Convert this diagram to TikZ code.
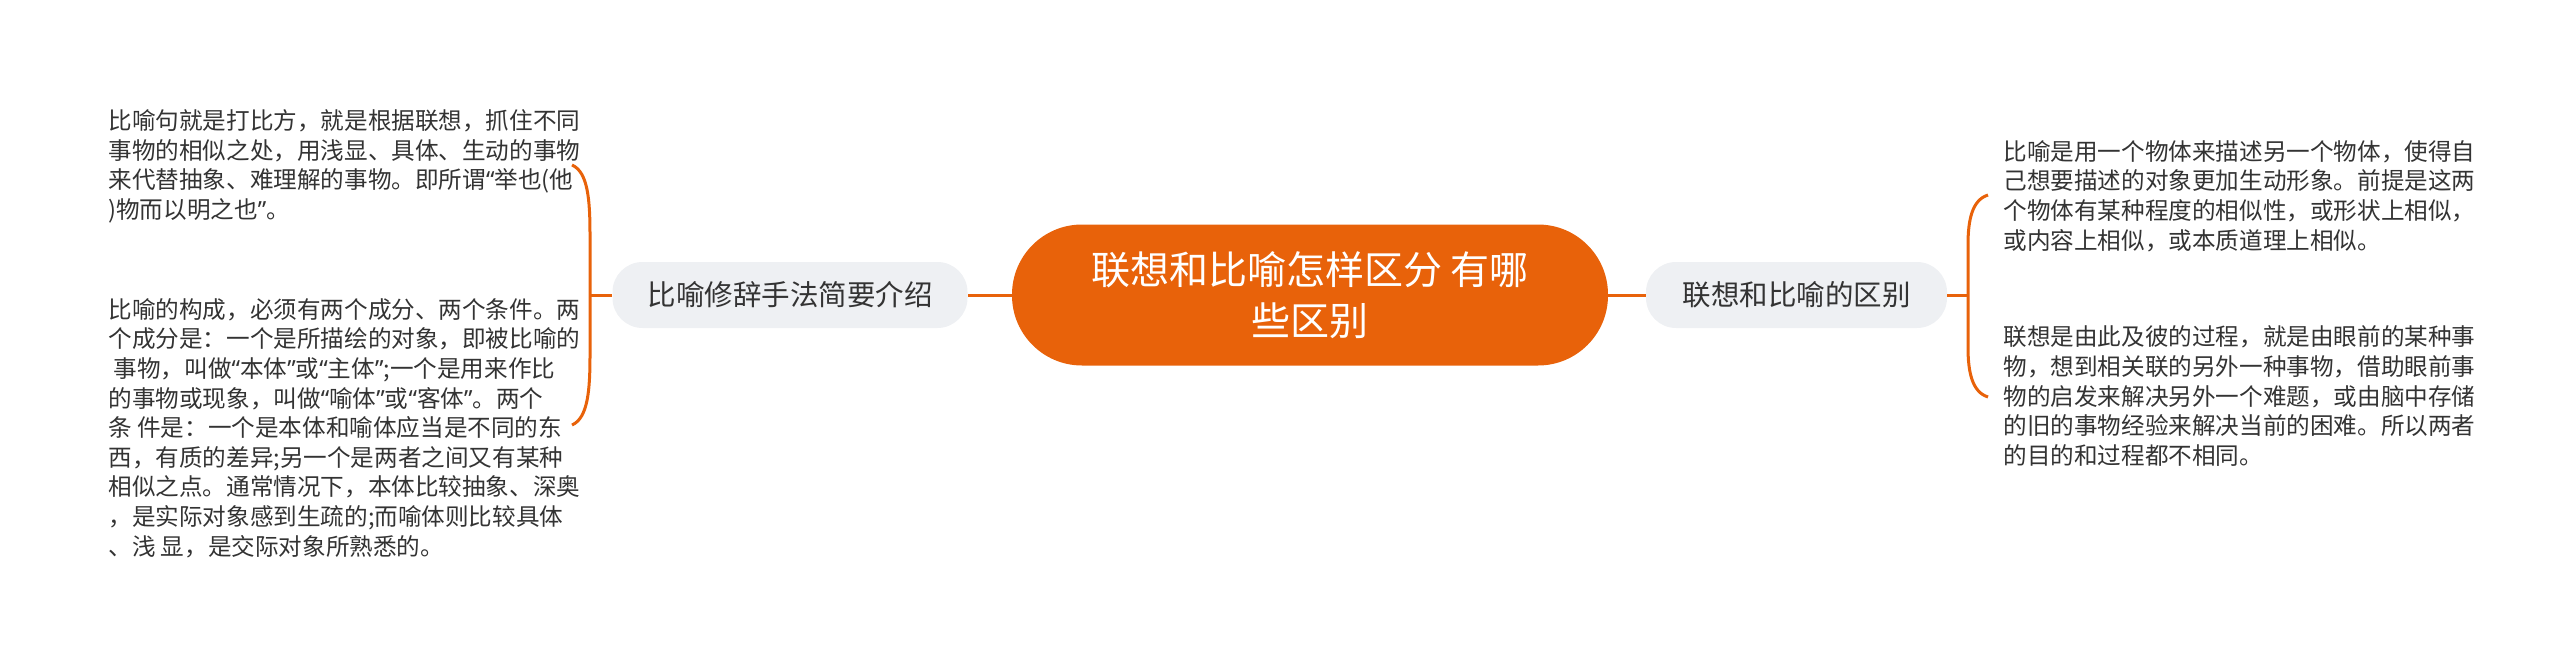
\documentclass[tikz,border=0pt]{standalone}
\usepackage{fontspec}
\setmainfont{Noto Sans CJK SC}
\newfontfamily\qfont{Noto Sans}
\newcommand{\myoq}{{\qfont “}}
\newcommand{\mycq}{{\qfont ”}}
\definecolor{orng}{HTML}{E8620A}
\definecolor{gfill}{HTML}{EEF0F3}
\definecolor{txt}{HTML}{333333}
\begin{document}
\begin{tikzpicture}[x=0.5pt,y=-0.5pt,
  conn/.style={draw=orng,line width=1.5pt},
  root/.style={fill=orng,text=white,rounded corners=35pt,minimum width=298pt,minimum height=70.5pt,align=center,font=\fontsize{19.5}{25.5}\selectfont,inner sep=0pt},
  topic/.style={fill=gfill,text=txt,rounded corners=15pt,minimum height=33pt,font=\fontsize{14.25}{17}\selectfont,inner sep=0pt},
  leaf/.style={text=txt,align=left,font=\fontsize{11.8}{14.8}\selectfont,inner sep=0pt,anchor=west}]
\useasboundingbox (0,0) rectangle (2560,664);
\node[root] (C) at (1310,295) {联想和比喻怎样区分 有哪\\些区别};
\node[topic,minimum width=177.5pt] (L) at (790,295) {比喻修辞手法简要介绍};
\node[topic,minimum width=150.5pt] (R) at (1796.5,295) {联想和比喻的区别};
\node[leaf] (L1) at (108,166.5) {比喻句就是打比方，就是根据联想，抓住不同\\事物的相似之处，用浅显、具体、生动的事物\\来代替抽象、难理解的事物。即所谓\myoq 举也(他\\)物而以明之也\mycq 。};
\node[leaf] (L2) at (108,428) {比喻的构成，必须有两个成分、两个条件。两\\个成分是：一个是所描绘的对象，即被比喻的\\~事物，叫做\myoq 本体\mycq 或\myoq 主体\mycq ;一个是用来作比\\的事物或现象，叫做\myoq 喻体\mycq 或\myoq 客体\mycq 。两个\\条 件是：一个是本体和喻体应当是不同的东\\西，有质的差异;另一个是两者之间又有某种\\相似之点。通常情况下，本体比较抽象、深奥\\，是实际对象感到生疏的;而喻体则比较具体\\、浅 显，是交际对象所熟悉的。};
\node[leaf] (R1) at (2003,196) {比喻是用一个物体来描述另一个物体，使得自\\己想要描述的对象更加生动形象。前提是这两\\个物体有某种程度的相似性，或形状上相似，\\或内容上相似，或本质道理上相似。};
\node[leaf] (R2) at (2003,396) {联想是由此及彼的过程，就是由眼前的某种事\\物，想到相关联的另外一种事物，借助眼前事\\物的启发来解决另外一个难题，或由脑中存储\\的旧的事物经验来解决当前的困难。所以两者\\的目的和过程都不相同。};
\coordinate (lj) at (590,295);
\coordinate (lt) at (572,165);
\coordinate (lb) at (572,425);
\coordinate (rj) at (1968,295);
\coordinate (rt) at (1988,195);
\coordinate (rb) at (1988,397);
\draw[conn] (C.west) -- (L.east);
\draw[conn] (C.east) -- (R.west);
\draw[conn] (L.west) -- (lj);
\draw[conn] (lt) .. controls (588,172) and (590,200) .. (590,235) -- (590,355) .. controls (590,390) and (588,418) .. (lb);
\draw[conn] (R.east) -- (rj);
\draw[conn] (rt) .. controls (1972,200) and (1968,220) .. (1968,245) -- (1968,347) .. controls (1968,372) and (1972,392) .. (rb);
\end{tikzpicture}
\end{document}
